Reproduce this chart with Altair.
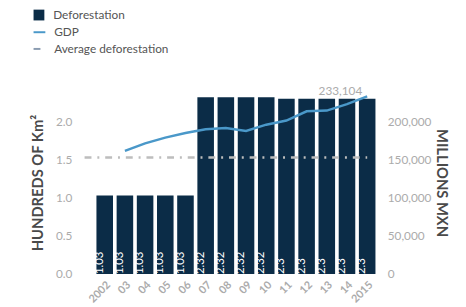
import altair as alt
import pandas as pd

years = ["2002", "03", "04", "05", "06", "07", "08", "09", "10", "11", "12", "13", "14", "2015"]
deforestation = [1.03, 1.03, 1.03, 1.03, 1.03, 2.32, 2.32, 2.32, 2.32, 2.3, 2.3, 2.3, 2.3, 2.3]
gdp_years = ["03", "04", "05", "06", "07", "08", "09", "10", "11", "12", "13", "14", "2015"]
gdp = [161500, 171400, 179000, 185000, 190000, 191600, 187700, 196000, 201500, 213600, 214500, 223100, 233104]
avg_deforestation = 1.53
series = ["Deforestation", "GDP", "Average deforestation"]

BAR = "#0b2c47"
LINE = "#4a98c9"
AVG = "#bdbdbd"
TICK = "#ababab"
TITLE = "#4a4a4a"
FONT = "Lato"

df_bar = pd.DataFrame({"year": years, "value": deforestation,
                       "label": [f"{v:g}" for v in deforestation], "s": series[0]})
df_gdp = pd.DataFrame({"year": gdp_years, "gdp": gdp, "s": series[1]})
df_avg = pd.DataFrame({"year": [years[0]], "end": [years[-1]], "value": [avg_deforestation], "s": series[2]})
df_last = df_gdp.tail(1)

xscale = alt.Scale(domain=years, paddingInner=0.18, paddingOuter=0.39)
xaxis = alt.Axis(title=None, labelAngle=-45, labelAlign="right", labelBaseline="top",
                 labelFont=FONT, labelFontWeight="bold", labelFontSize=11, labelColor=TICK,
                 labelPadding=5, ticks=False, domain=False, grid=False)
yscale = alt.Scale(domain=[0, 2.4], nice=False)
yscale_r = alt.Scale(domain=[0, 240000], nice=False)
raxis = alt.Axis(orient="right", title="MILLIONS MXN", titleAngle=90,
                 values=[0, 50000, 100000, 150000, 200000], format=",d",
                 labelFont=FONT, labelFontSize=12, labelColor=TICK, labelPadding=4,
                 titleFont=FONT, titleFontSize=15, titleFontWeight="bold", titleColor=TITLE,
                 titlePadding=3, ticks=False, domain=False, grid=False)

leg_common = dict(orient="none", title=None, padding=0, labelFont=FONT, labelFontSize=12,
                  labelColor="#555555", labelOffset=8, legendX=-57)

bars = alt.Chart(df_bar).mark_bar(color=BAR).encode(
    x=alt.X("year:N", scale=xscale, axis=xaxis, sort=years),
    y=alt.Y("value:Q", scale=yscale,
            axis=alt.Axis(title="HUNDREDS OF Km²", values=[0, 0.5, 1.0, 1.5, 2.0], format=".1f",
                          labelFont=FONT, labelFontSize=12, labelColor=TICK, labelPadding=17,
                          titleFont=FONT, titleFontSize=15, titleFontWeight="bold", titleColor=TITLE,
                          titlePadding=10, ticks=False, domain=False, grid=False)),
    color=alt.Color("s:N", scale=alt.Scale(domain=[series[0]], range=[BAR]),
                    legend=alt.Legend(legendY=-84, symbolType="square", symbolSize=121, **leg_common)),
)

bar_text = alt.Chart(df_bar).mark_text(color="white", angle=270, align="left", baseline="middle",
                                       dy=-5, fontSize=11.5, font=FONT).encode(
    x=alt.X("year:N", scale=xscale, sort=years),
    y=alt.datum(0),
    text="label:N",
)

avg_rule = alt.Chart(df_avg).mark_rule(color=AVG, strokeWidth=2.5, xOffset=-20.5).encode(
    x=alt.X("year:N", scale=xscale, sort=years),
    x2="end:N",
    y=alt.Y("value:Q", scale=yscale),
    strokeDash=alt.StrokeDash("s:N", scale=alt.Scale(domain=[series[2]], range=[[7, 6, 2, 6]]),
                              legend=alt.Legend(legendY=-50, symbolSize=144, symbolStrokeWidth=2,
                                                symbolStrokeColor="#8a9bb0", symbolType="stroke",
                                                **leg_common)),
)

left = alt.layer(bars, bar_text, avg_rule)

gdp_line = alt.Chart(df_gdp).mark_line(strokeWidth=2.5).encode(
    x=alt.X("year:N", scale=xscale, sort=years),
    y=alt.Y("gdp:Q", scale=yscale_r, axis=raxis),
    stroke=alt.Stroke("s:N", scale=alt.Scale(domain=[series[1]], range=[LINE]),
                      legend=alt.Legend(legendY=-67, symbolType="stroke", symbolSize=144,
                                        symbolStrokeWidth=2, **leg_common)),
)

gdp_label = alt.Chart(df_last).mark_text(align="right", baseline="middle", dx=-5, dy=-5,
                                          color=TICK, fontSize=12, font=FONT).encode(
    x=alt.X("year:N", scale=xscale, sort=years),
    y=alt.Y("gdp:Q", scale=yscale_r, axis=raxis),
    text=alt.Text("gdp:Q", format=","),
)

right = alt.layer(gdp_line, gdp_label)

chart = alt.layer(left, right).resolve_scale(y="independent").properties(
    width=300, height=186,
    autosize=alt.AutoSizeParams(type="none"),
    padding={"left": 82, "top": 82, "right": 76, "bottom": 31},
).configure(font=FONT).configure_view(stroke=None)

chart.save("out.html", embed_options={"renderer": "svg", "actions": False})
